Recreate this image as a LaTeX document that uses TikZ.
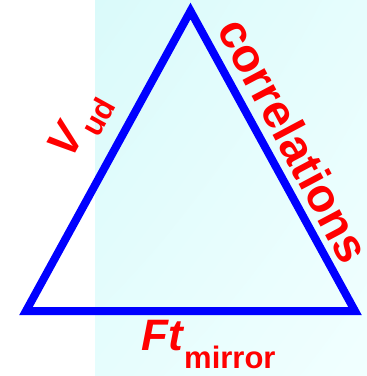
\documentclass[tikz,border=0pt]{standalone}
\usepackage{fontspec}
\setmainfont{Liberation Sans}
\usetikzlibrary{positioning, shadings}

\definecolor{sideblue}{RGB}{0,0,255}
\definecolor{lblred}{RGB}{255,0,0}
\definecolor{bgcyanA}{RGB}{218,250,250}
\definecolor{bgcyanB}{RGB}{230,253,253}
\definecolor{bgcyanC}{RGB}{241,255,255}

\begin{document}
\begin{tikzpicture}[
    x=1pt, y=-1pt,
    side/.style={draw=sideblue, line width=8pt, line join=miter, miter limit=10},
    lbl/.style={text=lblred, inner sep=0pt, font=\bfseries\fontsize{44}{44}\selectfont},
    big/.style={lbl, font=\bfseries\fontsize{47}{47}\selectfont}
]
\useasboundingbox (0,0) rectangle (367,376);
\shade[upper left=bgcyanA, upper right=bgcyanB, lower left=bgcyanB, lower right=bgcyanC]
    (95,0) rectangle (367,376);

% corners of the triangle
\coordinate (apex) at (190.5,11);
\coordinate (lft) at (26,311);
\coordinate (rgt) at (355,311);

\draw[side] (apex) -- (lft) -- (rgt) -- cycle;

% side labels
\node[lbl, rotate=61, anchor=base west] (vud) at (71,161)
    {\textit{V}\raisebox{-13pt}{\fontsize{31}{31}\selectfont ud}};
\node[big, rotate=-62, anchor=base west] (corr) at (216,29) {correlations};
\node[lbl, anchor=base west] (ft) at (141,350)
    {\textit{Ft}\raisebox{-18pt}{\fontsize{31}{31}\selectfont mirror}};
\end{tikzpicture}
\end{document}
